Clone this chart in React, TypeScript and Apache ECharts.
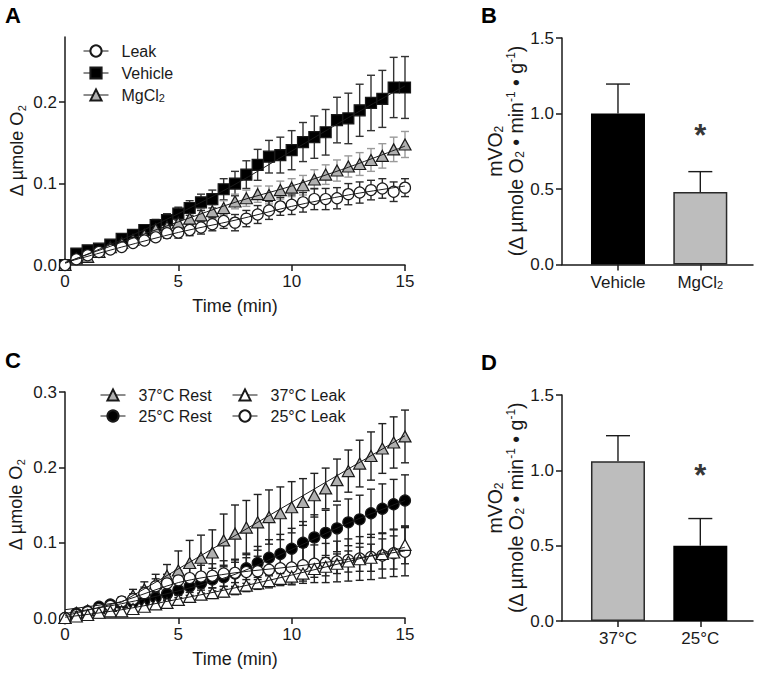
import React, { useEffect, useRef } from "react";
import * as echarts from "echarts";

// ---------- data ----------
const TIME = [0, 0.5, 1, 1.5, 2, 2.5, 3, 3.5, 4, 4.5, 5, 5.5, 6, 6.5, 7, 7.5, 8, 8.5, 9, 9.5, 10, 10.5, 11, 11.5, 12, 12.5, 13, 13.5, 14, 14.5, 15];

// Panel A
const LEAK_A = [0, 0.007, 0.012, 0.016, 0.019, 0.022, 0.027, 0.030, 0.034, 0.039, 0.040, 0.043, 0.046, 0.050, 0.054, 0.052, 0.057, 0.062, 0.067, 0.072, 0.074, 0.077, 0.081, 0.081, 0.082, 0.087, 0.089, 0.092, 0.094, 0.090, 0.095];
const LEAK_A_SE = [0, 0.002, 0.003, 0.003, 0.003, 0.004, 0.004, 0.004, 0.005, 0.006, 0.007, 0.007, 0.008, 0.008, 0.009, 0.010, 0.010, 0.011, 0.011, 0.011, 0.012, 0.012, 0.013, 0.013, 0.013, 0.013, 0.013, 0.012, 0.012, 0.012, 0.011];
const VEHICLE_A = [0, 0.014, 0.018, 0.020, 0.025, 0.032, 0.037, 0.043, 0.049, 0.055, 0.063, 0.070, 0.077, 0.081, 0.093, 0.100, 0.111, 0.123, 0.133, 0.135, 0.141, 0.151, 0.157, 0.163, 0.178, 0.180, 0.190, 0.199, 0.204, 0.218, 0.218];
const VEHICLE_A_SE = [0, 0.003, 0.004, 0.004, 0.005, 0.005, 0.006, 0.006, 0.007, 0.008, 0.008, 0.009, 0.010, 0.011, 0.013, 0.015, 0.017, 0.019, 0.020, 0.022, 0.024, 0.024, 0.026, 0.028, 0.028, 0.031, 0.032, 0.034, 0.035, 0.037, 0.038];
const MGCL2_A = [0, 0.008, 0.010, 0.016, 0.022, 0.027, 0.031, 0.037, 0.044, 0.047, 0.052, 0.057, 0.061, 0.066, 0.070, 0.078, 0.082, 0.087, 0.086, 0.092, 0.095, 0.098, 0.105, 0.111, 0.116, 0.121, 0.124, 0.129, 0.134, 0.142, 0.148];
const MGCL2_A_SE = [0, 0.002, 0.003, 0.003, 0.004, 0.004, 0.005, 0.005, 0.006, 0.006, 0.007, 0.007, 0.008, 0.008, 0.009, 0.009, 0.010, 0.010, 0.011, 0.011, 0.011, 0.012, 0.012, 0.012, 0.013, 0.013, 0.014, 0.014, 0.015, 0.015, 0.016];

const FIT_T = [0, 2.5, 5, 7.5, 10, 12.5, 15];
const FIT_LEAK_A = [0.003, 0.022, 0.040, 0.055, 0.072, 0.086, 0.097];
const FIT_VEHICLE_A = [0.002, 0.031, 0.063, 0.099, 0.140, 0.181, 0.220];
const FIT_MGCL2_A = [0.003, 0.028, 0.053, 0.077, 0.097, 0.120, 0.146];

// Panel C
const REST37 = [0, 0.007, 0.010, 0.013, 0.016, 0.021, 0.030, 0.038, 0.046, 0.056, 0.063, 0.073, 0.080, 0.087, 0.103, 0.112, 0.120, 0.127, 0.134, 0.139, 0.147, 0.154, 0.163, 0.172, 0.183, 0.195, 0.205, 0.215, 0.225, 0.233, 0.241];
const REST37_SE = [0, 0.002, 0.003, 0.004, 0.005, 0.006, 0.008, 0.010, 0.012, 0.015, 0.026, 0.030, 0.030, 0.030, 0.035, 0.038, 0.036, 0.037, 0.036, 0.035, 0.034, 0.031, 0.029, 0.027, 0.028, 0.028, 0.031, 0.032, 0.033, 0.034, 0.035];
const REST25 = [0, 0.006, 0.009, 0.015, 0.018, 0.020, 0.021, 0.023, 0.027, 0.032, 0.037, 0.042, 0.046, 0.051, 0.054, 0.059, 0.066, 0.073, 0.080, 0.085, 0.092, 0.100, 0.107, 0.113, 0.119, 0.127, 0.131, 0.139, 0.145, 0.151, 0.156];
const REST25_SE = [0, 0.002, 0.003, 0.003, 0.004, 0.005, 0.006, 0.007, 0.008, 0.009, 0.010, 0.012, 0.013, 0.015, 0.016, 0.018, 0.020, 0.022, 0.024, 0.026, 0.027, 0.028, 0.030, 0.030, 0.031, 0.031, 0.032, 0.032, 0.033, 0.033, 0.034];
const LEAK37 = [0, 0.002, 0.004, 0.007, 0.009, 0.009, 0.012, 0.015, 0.018, 0.020, 0.024, 0.028, 0.031, 0.033, 0.035, 0.039, 0.043, 0.046, 0.049, 0.052, 0.055, 0.059, 0.065, 0.068, 0.072, 0.075, 0.078, 0.080, 0.085, 0.087, 0.097];
const LEAK37_SE = [0, 0.001, 0.002, 0.002, 0.003, 0.003, 0.004, 0.004, 0.005, 0.005, 0.006, 0.006, 0.006, 0.007, 0.007, 0.008, 0.008, 0.008, 0.009, 0.009, 0.010, 0.010, 0.011, 0.012, 0.013, 0.014, 0.016, 0.018, 0.020, 0.022, 0.025];
const LEAK25 = [0, 0.004, 0.008, 0.012, 0.016, 0.022, 0.025, 0.033, 0.042, 0.046, 0.050, 0.053, 0.055, 0.056, 0.059, 0.060, 0.061, 0.062, 0.064, 0.066, 0.067, 0.070, 0.072, 0.073, 0.075, 0.077, 0.079, 0.081, 0.083, 0.086, 0.088];
const LEAK25_SE = [0, 0.002, 0.003, 0.004, 0.005, 0.006, 0.007, 0.008, 0.010, 0.012, 0.013, 0.014, 0.015, 0.016, 0.017, 0.018, 0.019, 0.020, 0.021, 0.022, 0.023, 0.024, 0.025, 0.026, 0.027, 0.028, 0.029, 0.030, 0.030, 0.031, 0.032];

const FIT_REST37_T = [0, 2.5, 15];
const FIT_REST37 = [0.011, 0.021, 0.242];
const FIT_REST25 = [0.006, 0.019, 0.036, 0.058, 0.091, 0.126, 0.156];
const FIT_LEAK37 = [0.001, 0.011, 0.025, 0.040, 0.057, 0.075, 0.094];
const FIT_LEAK25 = [0.003, 0.022, 0.047, 0.060, 0.068, 0.078, 0.089];

// Panels B and D
const B_CATS = ["Vehicle", "MgCl2"];
const B_MEANS = [1.0, 0.48];
const B_SE = [0.195, 0.135];
const B_STAR = 0.88;
const D_CATS = ["37°C", "25°C"];
const D_MEANS = [1.06, 0.5];
const D_SE = [0.17, 0.18];
const D_STAR = 0.99;

const TIME_TICKS = [0, 5, 10, 15];
const A_Y_TICKS = [0, 0.1, 0.2];
const C_Y_TICKS = [0, 0.1, 0.2, 0.3];
const BAR_Y_TICKS = [0, 0.5, 1.0, 1.5];

// ---------- styling ----------
const FONT = '"Liberation Sans", Arial, Helvetica, sans-serif';
const INK = "#1a1a1a";
const GREY = "#b0b0b0";
const BAR_GREY = "#bdbdbd";

const RICH = {
  sub: { fontSize: 11, lineHeight: 8, verticalAlign: "bottom", fontFamily: FONT, color: INK },
  sup: { fontSize: 11, lineHeight: 8, verticalAlign: "top", fontFamily: FONT, color: INK },
};
const RICH_BIG = {
  sub: { fontSize: 12, lineHeight: 8, verticalAlign: "bottom", fontFamily: FONT, color: INK },
  sup: { fontSize: 12, lineHeight: 8, verticalAlign: "top", fontFamily: FONT, color: INK },
};

const subName = (s: string) => s.replace(/(MgCl|O)2/g, "$1{sub|2}");

function axisCommon(extra: any) {
  return {
    axisLine: { show: true, onZero: false, lineStyle: { color: INK, width: 1.5 } },
    axisTick: { show: true, length: 6, lineStyle: { color: INK, width: 1.5 } },
    splitLine: { show: false },
    axisLabel: { color: INK, fontSize: 17, fontFamily: FONT, margin: 8 },
    ...extra,
  };
}

function errorSeries(name: string, xs: number[], ys: number[], se: number[], color: string, gi: number, capHalf: number, upperOnly: boolean, z: number) {
  return {
    type: "custom",
    name,
    xAxisIndex: gi,
    yAxisIndex: gi,
    z,
    silent: true,
    clip: false,
    data: xs.map((x, i) => [x, ys[i], se[i]]),
    encode: { x: 0, y: 1 },
    renderItem: (_p: any, api: any) => {
      const x = api.value(0);
      const y = api.value(1);
      const e = api.value(2);
      if (!e) return { type: "group", children: [] };
      const top = api.coord([x, y + e]);
      const bot = upperOnly ? api.coord([x, y]) : api.coord([x, y - e]);
      const style = { stroke: color, lineWidth: 1.4, fill: "none" };
      const children: any[] = [
        { type: "line", shape: { x1: top[0], y1: top[1], x2: bot[0], y2: bot[1] }, style },
        { type: "line", shape: { x1: top[0] - capHalf, y1: top[1], x2: top[0] + capHalf, y2: top[1] }, style },
      ];
      if (!upperOnly) {
        children.push({ type: "line", shape: { x1: bot[0] - capHalf, y1: bot[1], x2: bot[0] + capHalf, y2: bot[1] }, style });
      }
      return { type: "group", children };
    },
  };
}

function pointSeries(name: string, ys: number[], symbol: string, size: any, fill: string, gi: number, z: number) {
  return {
    type: "line",
    name,
    xAxisIndex: gi,
    yAxisIndex: gi,
    z,
    data: TIME.map((t, i) => [t, ys[i]]),
    symbol,
    symbolSize: size,
    showSymbol: true,
    showAllSymbol: true,
    clip: false,
    silent: true,
    lineStyle: { opacity: 0, width: 1, color: INK },
    itemStyle: { color: fill, borderColor: INK, borderWidth: 1.2 },
    emphasis: { disabled: true },
  };
}

function fitSeries(ts: number[], ys: number[], gi: number, smooth: number | boolean) {
  return {
    type: "line",
    name: "_fit",
    xAxisIndex: gi,
    yAxisIndex: gi,
    z: 5,
    data: ts.map((t, i) => [t, ys[i]]),
    symbol: "none",
    smooth,
    silent: true,
    clip: false,
    lineStyle: { color: INK, width: 1 },
    emphasis: { disabled: true },
  };
}

function barSeries(gi: number, means: number[], colors: string[], borders: boolean[]) {
  return {
    type: "bar",
    xAxisIndex: gi,
    yAxisIndex: gi,
    barWidth: 54,
    z: 2,
    silent: true,
    data: means.map((m, i) => ({
      value: [i + 1, m],
      itemStyle: { color: colors[i], borderColor: borders[i] ? "#2a2a2a" : colors[i], borderWidth: borders[i] ? 1.5 : 0 },
    })),
  };
}

function starSeries(gi: number, xIndex: number, yv: number) {
  return {
    type: "scatter",
    xAxisIndex: gi,
    yAxisIndex: gi,
    z: 6,
    silent: true,
    symbolSize: 1,
    itemStyle: { color: "transparent" },
    data: [[xIndex, yv]],
    label: { show: true, formatter: "*", position: "inside", offset: [0, 4], fontSize: 31, fontWeight: "bold", color: "#000", fontFamily: FONT },
  };
}

function buildOption(): any {
  const grids = [
    { left: 65, top: 37, width: 340, height: 228 },
    { left: 562, top: 38, width: 191, height: 226.5 },
    { left: 65, top: 392, width: 340, height: 226 },
    { left: 562, top: 395, width: 191, height: 226 },
  ].map((g) => ({ ...g, containLabel: false, outerBoundsMode: "none" }));

  const yTitle = { fontSize: 18, color: INK, fontFamily: FONT, lineHeight: 20, rich: RICH };
  const barTitle = { fontSize: 19.5, color: INK, fontFamily: FONT, lineHeight: 21, rich: RICH_BIG };
  const xTitle = { fontSize: 18, color: INK, fontFamily: FONT };

  const timeAxis = (gi: number) =>
    axisCommon({
      type: "value",
      gridIndex: gi,
      min: 0,
      max: 15,
      name: "Time (min)",
      nameLocation: "middle",
      nameGap: 32,
      nameTextStyle: xTitle,
      axisTick: { show: true, length: 6, lineStyle: { color: INK, width: 1.5 }, customValues: TIME_TICKS },
      axisLabel: { color: INK, fontSize: 17, fontFamily: FONT, margin: 8, customValues: TIME_TICKS },
    });

  const catAxis = (gi: number, cats: string[]) =>
    axisCommon({
      type: "value",
      gridIndex: gi,
      min: 0.32,
      max: 2.64,
      axisTick: { show: true, length: 6, lineStyle: { color: INK, width: 1.5 }, customValues: [1, 2] },
      axisLabel: {
        color: INK,
        fontSize: 17,
        fontFamily: FONT,
        margin: 9,
        customValues: [1, 2],
        formatter: (v: number) => subName(cats[Math.round(v) - 1] || ""),
        rich: { sub: { fontSize: 11, lineHeight: 8, verticalAlign: "bottom", fontFamily: FONT, color: INK } },
      },
    });

  const valAxis = (gi: number, max: number, ticks: number[], name: string, gap: number, style: any) =>
    axisCommon({
      type: "value",
      gridIndex: gi,
      min: 0,
      max,
      name,
      nameLocation: "middle",
      nameGap: gap,
      nameTextStyle: style,
      axisTick: { show: true, length: 6, lineStyle: { color: INK, width: 1.5 }, customValues: ticks },
      axisLabel: { color: INK, fontSize: 17, fontFamily: FONT, margin: 8, customValues: ticks, formatter: (v: number) => v.toFixed(1) },
    });

  const mvoName = "mVO{sub|2}\n(Δ µmole O{sub|2} • min{sup|-1} • g{sup|-1})";

  const legendBase = {
    orient: "vertical",
    padding: 0,
    itemWidth: 25,
    itemHeight: 14,
    selectedMode: false,
    lineStyle: { color: INK, width: 1, opacity: 1 },
    textStyle: { fontSize: 16, lineHeight: 16, color: INK, fontFamily: FONT, padding: [0, 0, 0, 8], rich: RICH },
    formatter: (n: string) => subName(n),
  };

  const series: any[] = [
    // Panel A
    errorSeries("eVehicle", TIME, VEHICLE_A, VEHICLE_A_SE, "#333333", 0, 4, false, 1),
    errorSeries("eMgCl2", TIME, MGCL2_A, MGCL2_A_SE, "#9a9a9a", 0, 4, false, 1),
    errorSeries("eLeak", TIME, LEAK_A, LEAK_A_SE, "#2a2a2a", 0, 4, false, 1),
    pointSeries("Vehicle", VEHICLE_A, "rect", 11, "#000000", 0, 3),
    pointSeries("MgCl2", MGCL2_A, "triangle", [12, 11], GREY, 0, 3),
    pointSeries("Leak", LEAK_A, "circle", 11, "#ffffff", 0, 3),
    fitSeries(FIT_T, FIT_VEHICLE_A, 0, 0.3),
    fitSeries(FIT_T, FIT_MGCL2_A, 0, 0.3),
    fitSeries(FIT_T, FIT_LEAK_A, 0, 0.3),
    // Panel B
    barSeries(1, B_MEANS, ["#000000", BAR_GREY], [false, true]),
    errorSeries("eB", [1, 2], B_MEANS, B_SE, INK, 1, 12, true, 1),
    starSeries(1, 2, B_STAR),
    // Panel C
    errorSeries("e37R", TIME, REST37, REST37_SE, "#222222", 2, 4, false, 1),
    errorSeries("e25R", TIME, REST25, REST25_SE, "#222222", 2, 4, false, 1),
    errorSeries("e25L", TIME, LEAK25, LEAK25_SE, "#222222", 2, 4, false, 1),
    errorSeries("e37L", TIME, LEAK37, LEAK37_SE, "#222222", 2, 4, false, 1),
    pointSeries("37°C Rest", REST37, "triangle", [12, 11], GREY, 2, 3),
    pointSeries("25°C Rest", REST25, "circle", 11, "#000000", 2, 3),
    pointSeries("25°C Leak", LEAK25, "circle", 11, "#ffffff", 2, 3),
    pointSeries("37°C Leak", LEAK37, "triangle", [12, 11], "#ffffff", 2, 3),
    fitSeries(FIT_REST37_T, FIT_REST37, 2, false),
    fitSeries(FIT_T, FIT_REST25, 2, 0.3),
    fitSeries(FIT_T, FIT_LEAK37, 2, 0.3),
    fitSeries(FIT_T, FIT_LEAK25, 2, 0.3),
    // Panel D
    barSeries(3, D_MEANS, [BAR_GREY, "#000000"], [true, false]),
    errorSeries("eD", [1, 2], D_MEANS, D_SE, INK, 3, 12, true, 1),
    starSeries(3, 2, D_STAR),
  ];

  const letter = (t: string, x: number, y: number) => ({
    type: "text",
    left: x,
    top: y,
    style: { text: t, fontSize: 22, fontWeight: "bold", fill: "#000", fontFamily: FONT },
  });

  return {
    animation: false,
    backgroundColor: "#ffffff",
    grid: grids,
    xAxis: [timeAxis(0), catAxis(1, B_CATS), timeAxis(2), catAxis(3, D_CATS)],
    yAxis: [
      valAxis(0, 0.28, A_Y_TICKS, "Δ µmole O{sub|2}", 38, yTitle),
      valAxis(1, 1.5, BAR_Y_TICKS, mvoName, 36, barTitle),
      valAxis(2, 0.3, C_Y_TICKS, "Δ µmole O{sub|2}", 39, yTitle),
      valAxis(3, 1.5, BAR_Y_TICKS, mvoName, 36, barTitle),
    ],
    legend: [
      { ...legendBase, left: 83, top: 43, itemGap: 6, data: ["Leak", "Vehicle", "MgCl2"] },
      { ...legendBase, left: 100, top: 387, itemGap: 5, data: ["37°C Rest", "25°C Rest"] },
      { ...legendBase, left: 232, top: 387, itemGap: 5, data: ["37°C Leak", "25°C Leak"] },
    ],
    graphic: [letter("A", 5, 4), letter("B", 481, 4), letter("C", 5, 349), letter("D", 481, 351)],
    series,
  };
}

export default function App() {
  const ref = useRef<HTMLDivElement>(null);
  useEffect(() => {
    const chart = echarts.init(ref.current!, null, { renderer: "svg" });
    chart.setOption(buildOption());
    return () => chart.dispose();
  }, []);
  return (
    <div
      ref={ref}
      style={{ position: "fixed", left: 0, top: 0, width: 761, height: 675, background: "#fff" }}
    />
  );
}
